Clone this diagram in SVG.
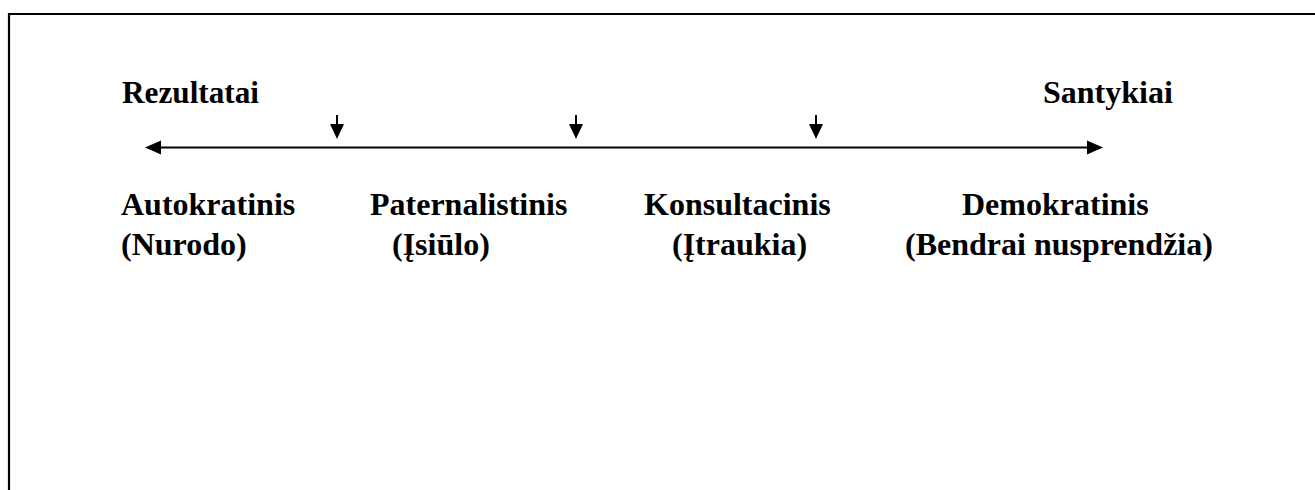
<svg xmlns="http://www.w3.org/2000/svg" width="1315" height="490" viewBox="0 0 1315 490">
<style>
  .t { font-family: "Liberation Serif", "Times New Roman", serif; font-weight: bold; font-size: 32px; fill: #000; }
  .ln { stroke: #000; stroke-width: 2.2; fill: none; }
  .hd { fill: #000; stroke: none; }
</style>
<rect width="1315" height="490" fill="#fff"/>
<g id="frame">
  <path class="ln" d="M9,490 V14 H1315"/>
</g>
<g id="connectors">
  <line class="ln" x1="158" y1="147.5" x2="1090" y2="147.5"/>
  <polygon class="hd" points="145,147.5 161,140.5 161,154.5"/>
  <polygon class="hd" points="1103,147.5 1087,140.5 1087,154.5"/>
  <line class="ln" x1="337" y1="115" x2="337" y2="126" style="stroke-width:2"/>
  <polygon class="hd" points="330,124 344,124 337,139"/>
  <line class="ln" x1="576" y1="115" x2="576" y2="126" style="stroke-width:2"/>
  <polygon class="hd" points="569,124 583,124 576,139"/>
  <line class="ln" x1="816" y1="115" x2="816" y2="126" style="stroke-width:2"/>
  <polygon class="hd" points="809,124 823,124 816,139"/>
</g>
<g id="rezultatai"><text class="t" x="122" y="103" textLength="137" lengthAdjust="spacingAndGlyphs">Rezultatai</text></g>
<g id="santykiai"><text class="t" x="1043" y="103">Santykiai</text></g>
<g id="autokratinis">
  <text class="t" x="121" y="215">Autokratinis</text>
  <text class="t" x="121" y="255">(Nurodo)</text>
</g>
<g id="paternalistinis">
  <text class="t" x="370" y="215">Paternalistinis</text>
  <text class="t" x="392" y="255">(Įsiūlo)</text>
</g>
<g id="konsultacinis">
  <text class="t" x="644" y="215">Konsultacinis</text>
  <text class="t" x="672" y="255">(Įtraukia)</text>
</g>
<g id="demokratinis">
  <text class="t" x="962" y="215">Demokratinis</text>
  <text class="t" x="905" y="255">(Bendrai nusprendžia)</text>
</g>
</svg>
